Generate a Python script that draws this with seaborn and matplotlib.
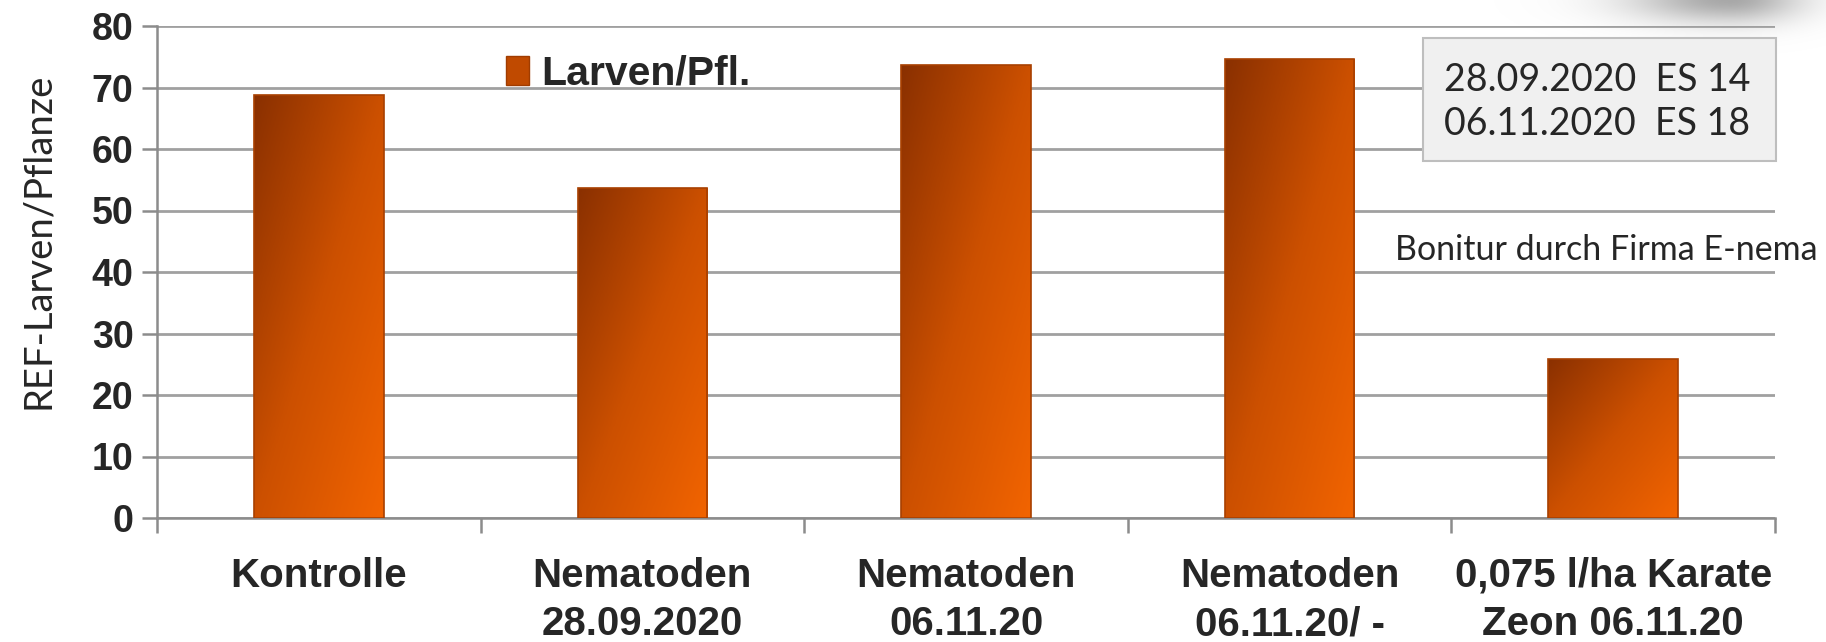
import numpy as np
import pandas as pd
import matplotlib
matplotlib.use("Agg")
import matplotlib.pyplot as plt
import seaborn as sns
from matplotlib.colors import LinearSegmentedColormap
from matplotlib.patches import Patch

# Daten
categories = ["Kontrolle", "Nematoden\n28.09.2020", "Nematoden\n06.11.20",
              "Nematoden\n06.11.20/ -", "0,075 l/ha Karate\nZeon 06.11.20"]
larven = [68.7, 53.7, 73.7, 74.6, 25.9]
y_ticks = [0, 10, 20, 30, 40, 50, 60, 70, 80]

data = pd.DataFrame({"Variante": categories, "Larven": larven})

sns.set_theme(style="white")
plt.rcParams["font.family"] = ["Lato", "DejaVu Sans"]
bold_font = ["Liberation Sans Narrow", "Liberation Sans", "DejaVu Sans"]

fig = plt.figure(figsize=(18.26, 6.42), dpi=100)

# grauer Schatten oben rechts (Folienhintergrund)
bg = fig.add_axes([0, 0, 1, 1], zorder=-1)
bx, by = np.meshgrid(np.arange(1826), np.arange(642))
sx = np.where(bx < 1730, 100.0, 70.0)
shade = np.exp(-((bx - 1730) / sx) ** 2 - (by / 24.0) ** 2)
bg.imshow(shade, cmap=LinearSegmentedColormap.from_list("sh", ["#FFFFFF", "#A8A8A8"]),
          vmin=0, vmax=1, aspect="auto", interpolation="bilinear")
bg.set_xlim(0, 1826)
bg.set_ylim(642, 0)
bg.set_axis_off()

ax = fig.add_axes([157 / 1826, 1 - 518 / 642, 1618 / 1826, 492 / 642])
ax.patch.set_alpha(0)

sns.barplot(data=data, x="Variante", y="Larven", width=0.4, color="#D05000",
            edgecolor="#A84000", linewidth=1.2, ax=ax, zorder=3)

# Farbverlauf dunkelbraun (oben links) -> orange (unten rechts)
cmap = LinearSegmentedColormap.from_list("orange_grad", ["#8A3000", "#CC5000", "#F26400"])
gx, gy = np.meshgrid(np.linspace(0, 1, 100), np.linspace(0, 1, 200))
grad = 0.5 * gx + 0.5 * gy  # gy = 0 oben
for p in ax.patches:
    x0, y0 = p.get_x(), p.get_y()
    w, h = p.get_width(), p.get_height()
    im = ax.imshow(grad, extent=[x0, x0 + w, y0, y0 + h], cmap=cmap, aspect="auto",
                   zorder=3, origin="upper")
    im.set_clip_path(p)
    p.set_facecolor("none")
    p.set_zorder(4)

ax.set_xlim(-0.5, len(categories) - 0.5)
ax.set_ylim(0, 80)
ax.set_yticks(y_ticks)
ax.yaxis.grid(True, color="#A0A0A0", linewidth=2)
ax.set_axisbelow(True)

for s in ["top", "right"]:
    ax.spines[s].set_visible(False)
for s in ["left", "bottom"]:
    ax.spines[s].set_color("#8C8C8C")
    ax.spines[s].set_linewidth(1.8)

# Trennstriche zwischen den Kategorien
ax.set_xticks(np.arange(-0.5, len(categories)), minor=True)
ax.tick_params(axis="x", which="minor", length=11, width=1.8, color="#8C8C8C", bottom=True)
ax.tick_params(axis="x", which="major", length=0, pad=28)
ax.tick_params(axis="y", length=11, width=1.8, color="#8C8C8C", left=True, pad=6)

ax.set_xticks(range(len(categories)))
ax.set_xticklabels(categories, fontsize=29, fontweight="bold", family=bold_font, linespacing=1.35)
for lab in ax.get_yticklabels():
    lab.set_fontsize(27)
    lab.set_fontweight("bold")
    lab.set_family(bold_font)

ax.set_xlabel("")
ax.set_ylabel("REF-Larven/Pflanze", fontsize=27.5)
ax.yaxis.set_label_coords(-0.0625, 0.563)

handle = Patch(facecolor="#C04A00", edgecolor="#A03C00")
leg = ax.legend([handle], ["Larven/Pfl."], loc="upper left", bbox_to_anchor=(0.193, 1.017),
                frameon=False, handlelength=0.55, handleheight=0.7, handletextpad=0.3,
                prop={"family": bold_font, "weight": "bold", "size": 29.5})

box = plt.Rectangle((1423 / 1826, 1 - 161 / 642), 353 / 1826, 123 / 642, transform=fig.transFigure,
                    facecolor="#F0F0F0", edgecolor="#BEBEBE", linewidth=1.5, zorder=1)
fig.patches.append(box)
fig.text(1444 / 1826, 1 - 102 / 642, "28.09.2020  ES 14\n06.11.2020  ES 18", fontsize=27,
         va="center", ha="left", linespacing=1.25)
fig.text(1395 / 1826, 1 - 250 / 642, "Bonitur durch Firma E-nema", fontsize=24.5,
         va="center", ha="left")

fig.savefig("out.png", dpi=100)
